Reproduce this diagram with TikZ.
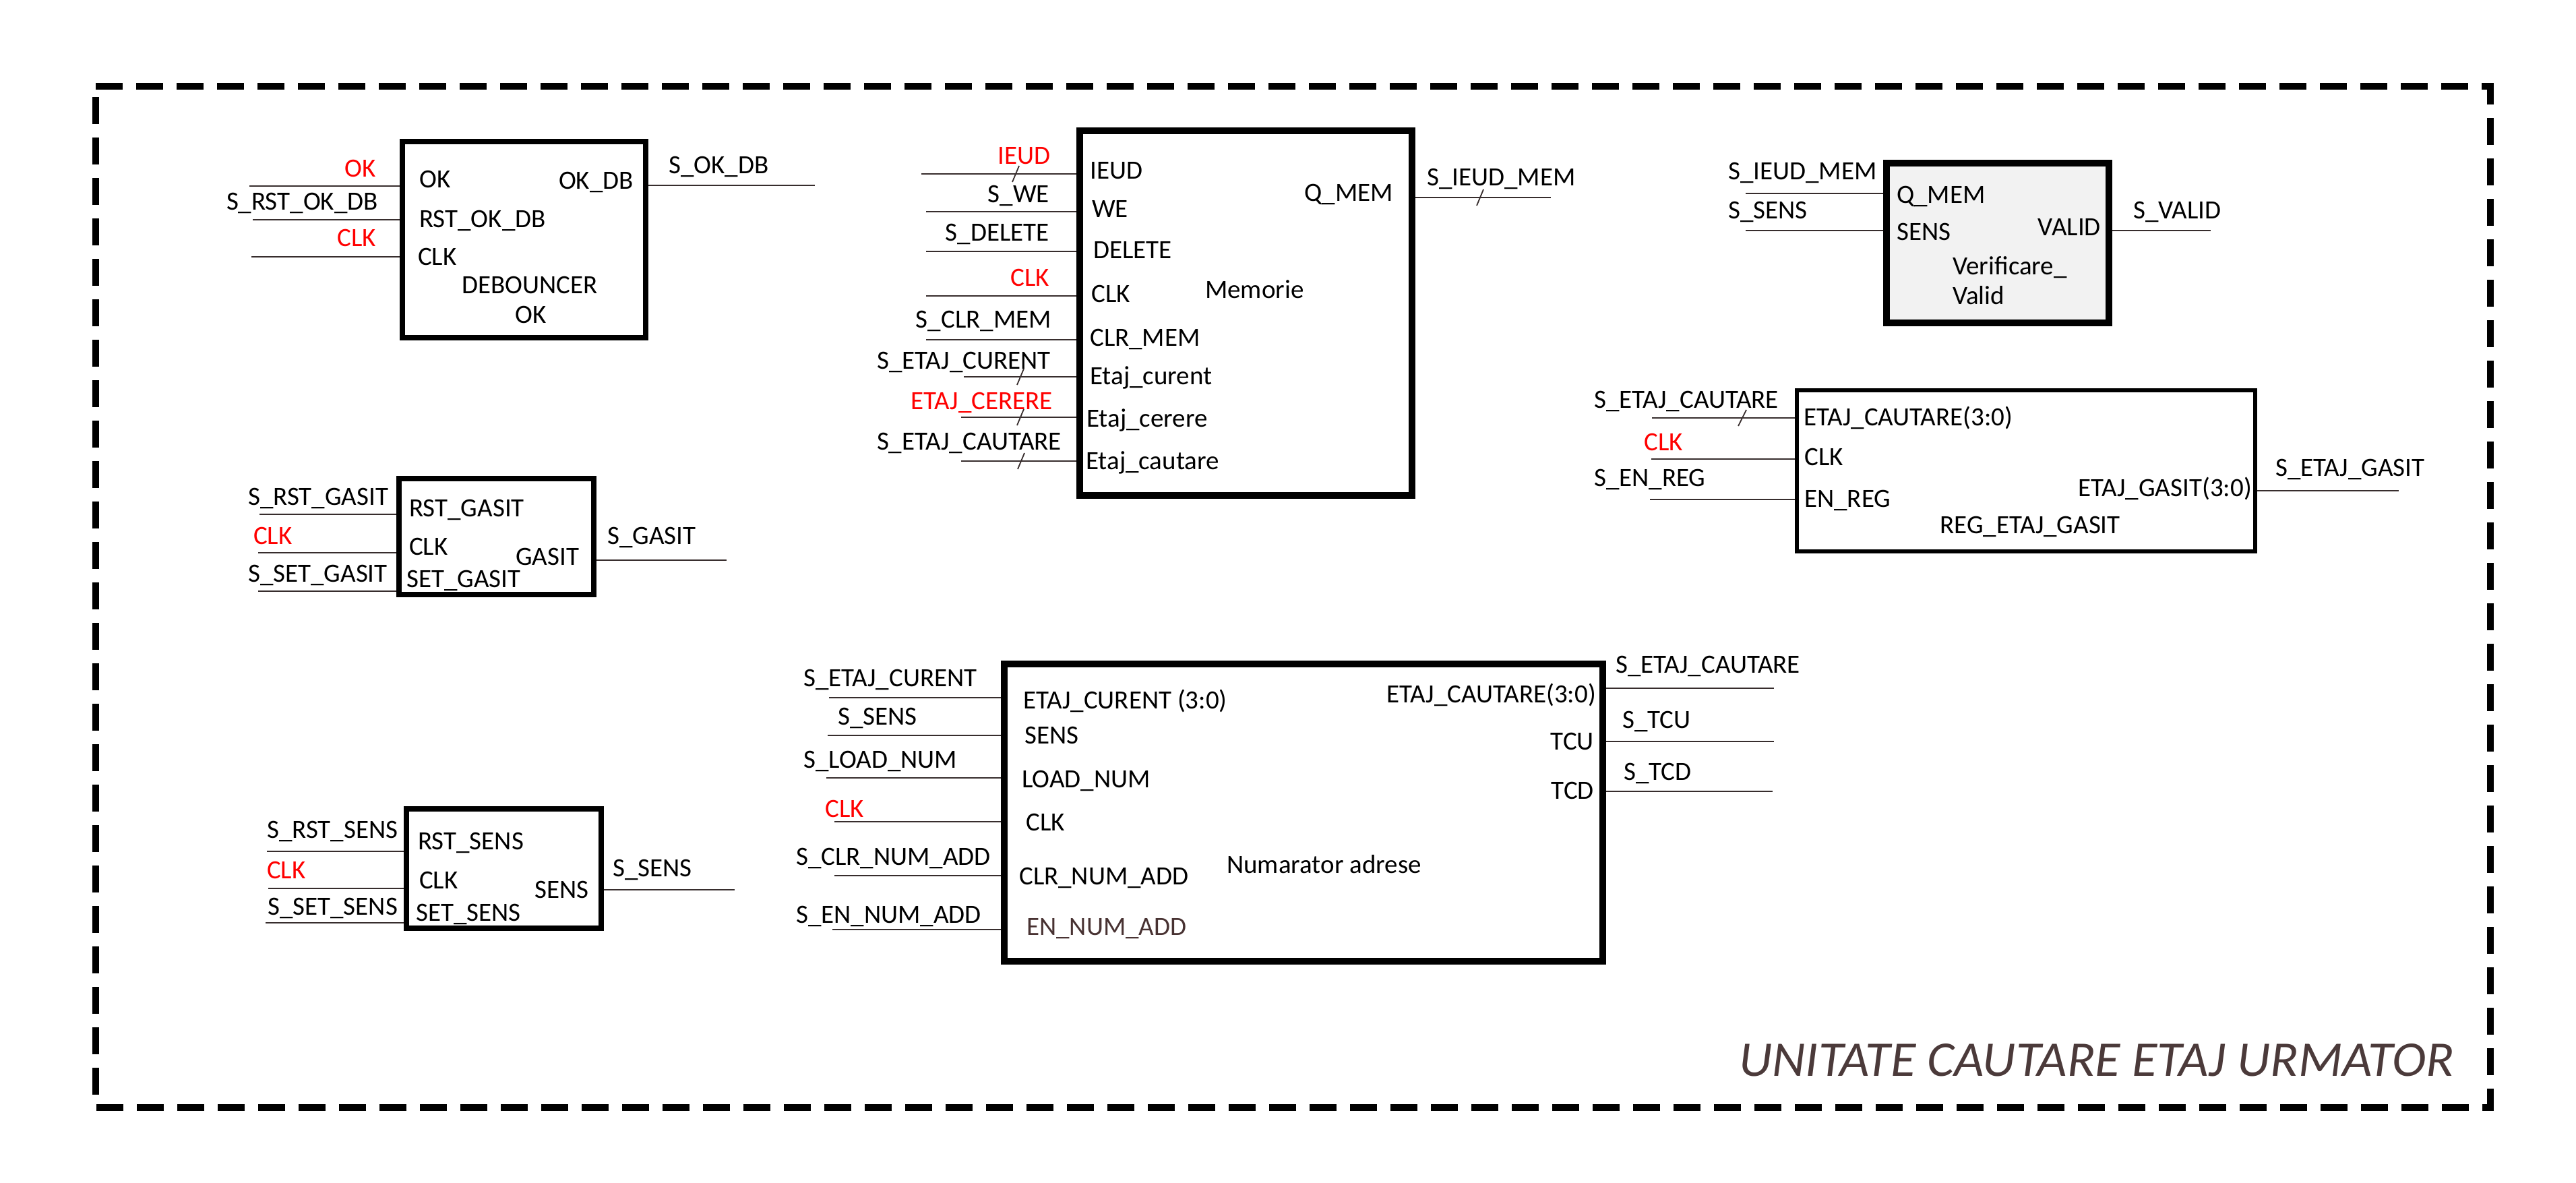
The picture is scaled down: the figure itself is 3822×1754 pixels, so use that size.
\documentclass[tikz,border=0pt]{standalone}
\usepackage{fontspec}
\setmainfont{Carlito}
\definecolor{wirecol}{RGB}{55,45,45}
\definecolor{browncol}{RGB}{72,50,50}
\definecolor{titlecol}{RGB}{75,58,58}
\definecolor{boxgray}{RGB}{242,242,242}
\newcommand{\lbfont}{\fontsize{39}{46}\selectfont}
\tikzset{
  wire/.style={line width=2.4pt, draw=wirecol},
  blk/.style={draw=black, line width=#1, rectangle, inner sep=0pt},
  lblW/.style={anchor=base west, inner sep=0pt, font=\lbfont},
  lblE/.style={anchor=base east, inner sep=0pt, font=\lbfont},
  redtxt/.style={text=red},
}
\begin{document}
\begin{tikzpicture}[x=1pt,y=-1pt]
\useasboundingbox (0,0) rectangle (3822,1754);
% outer dashed frame
\draw[line width=10pt, dash pattern=on 40pt off 20pt] (142,128) -- (3695,128) -- (3695,1643) -- (142,1643) -- cycle;
\node[anchor=base west, inner sep=0pt, text=titlecol, font=\fontsize{74}{80}\selectfont\itshape, xscale=1.035] (title) at (2580,1596) {UNITATE CAUTARE ETAJ URMATOR};

% ================= DEBOUNCER
\node[blk=8pt, minimum width=361pt, minimum height=291pt] (deb) at (777.5,355.5) {};
\node[lblE, redtxt] (deb-l1) at (558,262) {OK};
\node[lblE] (deb-l2) at (561,311) {S\_RST\_OK\_DB};
\node[lblE, redtxt] (deb-l3) at (558,365) {CLK};
\coordinate (deb-i1) at (370,276);
\coordinate (deb-i2) at (375,326);
\coordinate (deb-i3) at (373,381);
\draw[wire] (deb-i1) -- (deb-i1 -| deb.west);
\draw[wire] (deb-i2) -- (deb-i2 -| deb.west);
\draw[wire] (deb-i3) -- (deb-i3 -| deb.west);
\node[lblW] (deb-p1) at (622,278) {OK};
\node[lblW] (deb-p2) at (622,337) {RST\_OK\_DB};
\node[lblW] (deb-p3) at (620,393) {CLK};
\node[lblW] (deb-n1) at (685,435) {DEBOUNCER};
\node[lblW] (deb-n2) at (764,479) {OK};
\node[lblE] (deb-q1) at (940,280) {OK\_DB};
\coordinate (deb-o1) at (1209,275);
\draw[wire] (deb-o1 -| deb.east) -- (deb-o1);
\node[lblW] (deb-s1) at (992,257) {S\_OK\_DB};

% ================= MEMORIE
\node[blk=10pt, minimum width=493pt, minimum height=541pt] (mem) at (1848.5,464.5) {};
\node[lblE, redtxt] (mem-l1) at (1559,243) {IEUD};
\node[lblE] (mem-l2) at (1557,300) {S\_WE};
\node[lblE] (mem-l3) at (1557,357) {S\_DELETE};
\node[lblE, redtxt] (mem-l4) at (1557,424) {CLK};
\node[lblE] (mem-l5) at (1560,486) {S\_CLR\_MEM};
\node[lblE] (mem-l6) at (1559,547) {S\_ETAJ\_CURENT};
\node[lblE, redtxt] (mem-l7) at (1562,607) {ETAJ\_CERERE};
\node[lblE] (mem-l8) at (1575,667) {S\_ETAJ\_CAUTARE};
\coordinate (mem-i1) at (1367,258);
\coordinate (mem-i2) at (1374,314);
\coordinate (mem-i3) at (1374,373);
\coordinate (mem-i4) at (1374,439);
\coordinate (mem-i5) at (1374,504);
\coordinate (mem-i6) at (1430,559);
\coordinate (mem-i7) at (1426,619);
\coordinate (mem-i8) at (1426,684);
\foreach \k in {1,...,8} {\draw[wire] (mem-i\k) -- (mem-i\k -| mem.west);}
\coordinate (mem-t1) at (1507,258);
\coordinate (mem-t6) at (1514,559);
\coordinate (mem-t7) at (1514,619);
\coordinate (mem-t8) at (1515,684);
\foreach \k in {1,6,7,8} {\draw[wire, line width=1.8pt] (mem-t\k) ++(-5,12) -- ++(10,-24);}
\node[lblW] (mem-p1) at (1617,265) {IEUD};
\node[lblW] (mem-p2) at (1620,322) {WE};
\node[lblW] (mem-p3) at (1622,383) {DELETE};
\node[lblW] (mem-p4) at (1619,448) {CLK};
\node[lblW] (mem-p5) at (1617,513) {CLR\_MEM};
\node[lblW] (mem-p6) at (1617,570) {Etaj\_curent};
\node[lblW] (mem-p7) at (1612,633) {Etaj\_cerere};
\node[lblW] (mem-p8) at (1611,696) {Etaj\_cautare};
\node[lblW] (mem-n) at (1788,442) {Memorie};
\node[lblE] (mem-q1) at (2067,298) {Q\_MEM};
\coordinate (mem-o1) at (2301,293);
\draw[wire] (mem-o1 -| mem.east) -- (mem-o1);
\coordinate (mem-to) at (2196,293);
\draw[wire, line width=1.8pt] (mem-to) ++(-5,12) -- ++(10,-24);
\node[lblW] (mem-s1) at (2117,275) {S\_IEUD\_MEM};

% ================= VERIFICARE VALID
\node[blk=10pt, fill=boxgray, minimum width=330pt, minimum height=237pt] (ver) at (2964,360.5) {};
\node[lblW] (ver-l1) at (2564,266) {S\_IEUD\_MEM};
\node[lblW] (ver-l2) at (2564,324) {S\_SENS};
\coordinate (ver-i1) at (2590,287);
\coordinate (ver-i2) at (2590,342);
\draw[wire] (ver-i1) -- (ver-i1 -| ver.west);
\draw[wire] (ver-i2) -- (ver-i2 -| ver.west);
\node[lblW] (ver-p1) at (2814,301) {Q\_MEM};
\node[lblW] (ver-p2) at (2814,356) {SENS};
\node[lblE] (ver-q1) at (3117,349) {VALID};
\node[lblW] (ver-n1) at (2897,407) {Verificare\_};
\node[lblW] (ver-n2) at (2897,451) {Valid};
\coordinate (ver-o1) at (3280,342);
\draw[wire] (ver-o1 -| ver.east) -- (ver-o1);
\node[lblW] (ver-s1) at (3165,324) {S\_VALID};

% ================= REG_ETAJ_GASIT
\node[blk=6pt, minimum width=680pt, minimum height=239pt] (reg) at (3006,698.5) {};
\node[lblW] (reg-l1) at (2365,605) {S\_ETAJ\_CAUTARE};
\node[lblW, redtxt] (reg-l2) at (2439,668) {CLK};
\node[lblW] (reg-l3) at (2365,721) {S\_EN\_REG};
\coordinate (reg-i1) at (2451,620);
\coordinate (reg-i2) at (2450,681);
\coordinate (reg-i3) at (2448,741);
\draw[wire] (reg-i1) -- (reg-i1 -| reg.west);
\draw[wire] (reg-i2) -- (reg-i2 -| reg.west);
\draw[wire] (reg-i3) -- (reg-i3 -| reg.west);
\coordinate (reg-t1) at (2585,620);
\draw[wire, line width=1.8pt] (reg-t1) ++(-6,12) -- ++(12,-24);
\node[lblW] (reg-p1) at (2676,631) {ETAJ\_CAUTARE(3:0)};
\node[lblW] (reg-p2) at (2677,690) {CLK};
\node[lblW] (reg-p3) at (2677,752) {EN\_REG};
\node[lblE] (reg-q1) at (3341,736) {ETAJ\_GASIT(3:0)};
\node[lblW] (reg-n) at (2878,791) {REG\_ETAJ\_GASIT};
\coordinate (reg-o1) at (3559,728);
\draw[wire] (reg-o1 -| reg.east) -- (reg-o1);
\node[lblW] (reg-s1) at (3376,706) {S\_ETAJ\_GASIT};

% ================= GASIT
\node[blk=8pt, minimum width=289pt, minimum height=172pt] (gas) at (736.5,796) {};
\node[lblW] (gas-l1) at (368,749) {S\_RST\_GASIT};
\node[lblW, redtxt] (gas-l2) at (376,807) {CLK};
\node[lblW] (gas-l3) at (368,863) {S\_SET\_GASIT};
\coordinate (gas-i1) at (385,763);
\coordinate (gas-i2) at (383,820);
\coordinate (gas-i3) at (383,877);
\draw[wire] (gas-i1) -- (gas-i1 -| gas.west);
\draw[wire] (gas-i2) -- (gas-i2 -| gas.west);
\draw[wire] (gas-i3) -- (gas-i3 -| gas.west);
\node[lblW] (gas-p1) at (607,766) {RST\_GASIT};
\node[lblW] (gas-p2) at (607,823) {CLK};
\node[lblW] (gas-p3) at (603,871) {SET\_GASIT};
\node[lblW] (gas-q1) at (765,838) {GASIT};
\coordinate (gas-o1) at (1078,831);
\draw[wire] (gas-o1 -| gas.east) -- (gas-o1);
\node[lblW] (gas-s1) at (901,807) {S\_GASIT};

% ================= SENS
\node[blk=8pt, minimum width=289pt, minimum height=177pt] (sen) at (747.5,1288.5) {};
\node[lblW] (sen-l1) at (396,1243) {S\_RST\_SENS};
\node[lblW, redtxt] (sen-l2) at (396,1303) {CLK};
\node[lblW] (sen-l3) at (397,1357) {S\_SET\_SENS};
\coordinate (sen-i1) at (396,1263);
\coordinate (sen-i2) at (398,1318);
\coordinate (sen-i3) at (394,1369);
\draw[wire] (sen-i1) -- (sen-i1 -| sen.west);
\draw[wire] (sen-i2) -- (sen-i2 -| sen.west);
\draw[wire] (sen-i3) -- (sen-i3 -| sen.west);
\node[lblW] (sen-p1) at (620,1260) {RST\_SENS};
\node[lblW] (sen-p2) at (622,1318) {CLK};
\node[lblW] (sen-p3) at (617,1366) {SET\_SENS};
\node[lblW] (sen-q1) at (793,1332) {SENS};
\coordinate (sen-o1) at (1090,1320);
\draw[wire] (sen-o1 -| sen.east) -- (sen-o1);
\node[lblW] (sen-s1) at (909,1300) {S\_SENS};

% ================= NUMARATOR ADRESE
\node[blk=10pt, minimum width=888pt, minimum height=441pt] (num) at (1934,1205.5) {};
\node[lblW] (num-l1) at (1192,1018) {S\_ETAJ\_CURENT};
\node[lblW] (num-l2) at (1243,1075) {S\_SENS};
\node[lblW] (num-l3) at (1192,1139) {S\_LOAD\_NUM};
\node[lblW, redtxt] (num-l4) at (1224,1212) {CLK};
\node[lblW] (num-l5) at (1181,1283) {S\_CLR\_NUM\_ADD};
\node[lblW] (num-l6) at (1181,1369) {S\_EN\_NUM\_ADD};
\coordinate (num-i1) at (1230,1035);
\coordinate (num-i2) at (1228,1091);
\coordinate (num-i3) at (1226,1154);
\coordinate (num-i4) at (1238,1219);
\coordinate (num-i5) at (1238,1299);
\coordinate (num-i6) at (1235,1379);
\foreach \k in {1,...,6} {\draw[wire] (num-i\k) -- (num-i\k -| num.west);}
\node[lblW] (num-p1) at (1518,1051) {ETAJ\_CURENT (3:0)};
\node[lblW] (num-p2) at (1520,1103) {SENS};
\node[lblW] (num-p3) at (1516,1168) {LOAD\_NUM};
\node[lblW] (num-p4) at (1522,1232) {CLK};
\node[lblW] (num-p5) at (1512,1312) {CLR\_NUM\_ADD};
\node[lblW, text=browncol] (num-p6) at (1523,1387) {EN\_NUM\_ADD};
\node[lblW] (num-n) at (1820,1295) {Numarator adrese};
\node[lblE] (num-q1) at (2368,1042) {ETAJ\_CAUTARE(3:0)};
\node[lblE] (num-q2) at (2365,1112) {TCU};
\node[lblE] (num-q3) at (2365,1185) {TCD};
\coordinate (num-o1) at (2632,1021);
\coordinate (num-o2) at (2632,1100);
\coordinate (num-o3) at (2630,1174);
\draw[wire] (num-o1 -| num.east) -- (num-o1);
\draw[wire] (num-o2 -| num.east) -- (num-o2);
\draw[wire] (num-o3 -| num.east) -- (num-o3);
\node[lblW] (num-s1) at (2397,998) {S\_ETAJ\_CAUTARE};
\node[lblW] (num-s2) at (2407,1080) {S\_TCU};
\node[lblW] (num-s3) at (2409,1157) {S\_TCD};
\end{tikzpicture}
\end{document}
